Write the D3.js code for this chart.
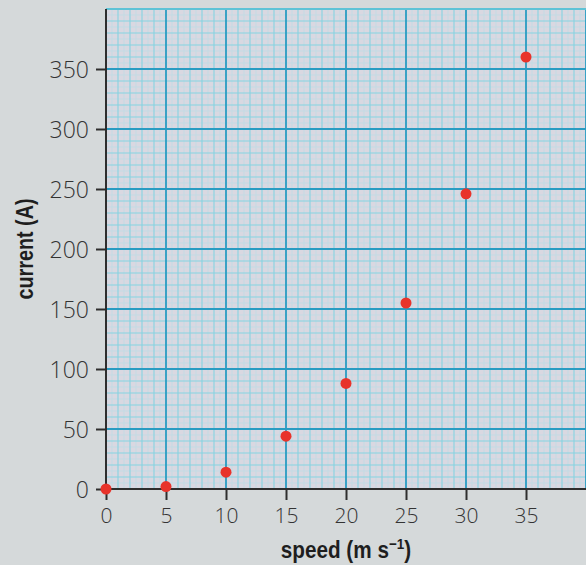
<!DOCTYPE html>
<html><head><meta charset="utf-8">
<script src="https://cdn.jsdelivr.net/npm/d3@7"></script>
<style>
html,body{margin:0;padding:0;background:#d5d9da;}
svg{display:block;}
</style></head>
<body>
<script>
const speeds = [0, 5, 10, 15, 20, 25, 30, 35];
const currents = [0, 2, 14, 44, 88, 155, 246, 360];
const xTicks = [0, 5, 10, 15, 20, 25, 30, 35];
const yTicks = [0, 50, 100, 150, 200, 250, 300, 350];
const xTitle = "speed (m s";
const yTitle = "current (A)";

const W = 586, H = 565;
const m = {left: 106, top: 9, right: 0, bottom: 76};
const svg = d3.select("body").append("svg").attr("width", W).attr("height", H);

const x = d3.scaleLinear().domain([0, 40]).range([m.left, W - m.right]);
const y = d3.scaleLinear().domain([0, 400]).range([H - m.bottom, m.top]);

// plot background
svg.append("rect").attr("x", x(0)).attr("y", y(400))
  .attr("width", x(40) - x(0)).attr("height", y(0) - y(400)).attr("fill", "#d9d8e1");

const g = svg.append("g");
// fine grid
const fineX = d3.range(0, 40.01, 0.5), fineY = d3.range(0, 400.1, 5);
g.selectAll(".fx").data(fineX.filter(v => v % 1 !== 0)).join("line")
  .attr("x1", d => x(d)).attr("x2", d => x(d)).attr("y1", y(0)).attr("y2", y(400))
  .attr("stroke", "#c3dbe4").attr("stroke-width", 1);
g.selectAll(".fy").data(fineY.filter(v => v % 10 !== 0)).join("line")
  .attr("y1", d => y(d)).attr("y2", d => y(d)).attr("x1", x(0)).attr("x2", x(40))
  .attr("stroke", "#c3dbe4").attr("stroke-width", 1);
// medium grid
g.selectAll(".mx").data(d3.range(0, 40.01, 1).filter(v => v % 5 !== 0)).join("line")
  .attr("x1", d => x(d)).attr("x2", d => x(d)).attr("y1", y(0)).attr("y2", y(400))
  .attr("stroke", "#86d4e2").attr("stroke-width", 1.1);
g.selectAll(".my").data(d3.range(0, 400.1, 10).filter(v => v % 50 !== 0)).join("line")
  .attr("y1", d => y(d)).attr("y2", d => y(d)).attr("x1", x(0)).attr("x2", x(40))
  .attr("stroke", "#86d4e2").attr("stroke-width", 1.1);
// major grid
g.selectAll(".Mx").data(d3.range(5, 40.01, 5)).join("line")
  .attr("x1", d => x(d)).attr("x2", d => x(d)).attr("y1", y(0)).attr("y2", y(400))
  .attr("stroke", "#2a9cc2").attr("stroke-width", 1.8);
g.selectAll(".My").data(d3.range(50, 400.1, 50)).join("line")
  .attr("y1", d => y(d)).attr("y2", d => y(d)).attr("x1", x(0)).attr("x2", x(40))
  .attr("stroke", "#2a9cc2").attr("stroke-width", 1.8);
// top border
svg.append("line").attr("x1", x(0)).attr("x2", x(40)).attr("y1", y(400)).attr("y2", y(400))
  .attr("stroke", "#5fc3d6").attr("stroke-width", 2);

// axes
const tickFont = "'Open Sans', 'Liberation Sans', sans-serif";
const xAxis = svg.append("g").attr("transform", `translate(0,${y(0)})`)
  .call(d3.axisBottom(x).tickValues(xTicks).tickSize(11).tickPadding(8).tickSizeOuter(0));
const yAxis = svg.append("g").attr("transform", `translate(${x(0)},0)`)
  .call(d3.axisLeft(y).tickValues(yTicks).tickSize(10).tickPadding(7).tickSizeOuter(0));
[xAxis, yAxis].forEach(a => {
  a.select(".domain").attr("stroke", "#2e2e2e").attr("stroke-width", 2);
  a.selectAll(".tick line").attr("stroke", "#2e2e2e").attr("stroke-width", 2);
  a.selectAll(".tick text").attr("fill", "#333").attr("font-family", tickFont).attr("font-weight", 300);
});
xAxis.selectAll(".tick text").attr("font-size", 21);
yAxis.selectAll(".tick text").attr("font-size", 23).attr("dy", "0.36em");
// extend axis lines over the full plot
yAxis.select(".domain").attr("d", `M0,${y(0)}V${y(400)}`);
xAxis.select(".domain").attr("d", `M${x(0)},0H${x(40)}`);

// points
svg.append("g").selectAll("circle").data(speeds.map((s, i) => [s, currents[i]])).join("circle")
  .attr("cx", d => x(d[0])).attr("cy", d => y(d[1])).attr("r", 5.5).attr("fill", "#e8332a");

// titles
const titleFont = "'Liberation Sans', 'DejaVu Sans', sans-serif";
const xt = svg.append("text").attr("transform", "translate(346,558) scale(0.9,1)").attr("text-anchor", "middle")
  .attr("font-family", titleFont).attr("font-weight", "bold").attr("font-size", 23).attr("fill", "#1e1e1e");
xt.append("tspan").text(xTitle);
xt.append("tspan").text("−1").attr("font-size", 15).attr("dy", -9);
xt.append("tspan").text(")").attr("dy", 9);

svg.append("text").attr("transform", `translate(33,249) rotate(-90) scale(0.86,1)`).attr("text-anchor", "middle")
  .attr("font-family", titleFont).attr("font-weight", "bold").attr("font-size", 23).attr("fill", "#1e1e1e")
  .text(yTitle);
</script>
</body></html>
